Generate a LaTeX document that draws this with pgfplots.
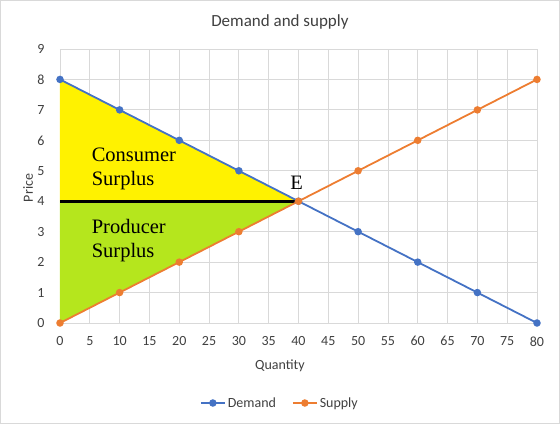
\documentclass[border=0pt]{standalone}
\usepackage{pgfplots}
\pgfplotsset{compat=1.18}
\usepackage{fontspec}
\setmainfont{Carlito}
\newfontfamily\tnr{Liberation Serif}
\definecolor{dem}{HTML}{4472C4}
\definecolor{sup}{HTML}{ED7D31}
\definecolor{csy}{HTML}{FFF200}
\definecolor{psg}{HTML}{B5E61D}
\definecolor{txt}{HTML}{404040}
\definecolor{grd}{HTML}{D9D9D9}
\begin{document}
\begin{tikzpicture}
\draw[line width=1pt, color=grd] (0.5pt,0.5pt) rectangle (559.5pt,423.5pt);
\begin{axis}[
  at={(60pt,101pt)}, anchor=south west,
  scale only axis, width=477pt, height=274pt,
  xmin=0, xmax=80, ymin=0, ymax=9,
  xtick={0,5,...,80}, ytick={0,1,...,9},
  grid=major, grid style={grd, line width=0.8pt},
  axis line style={draw=none},
  major tick length=0pt,
  /pgf/number format/assume math mode=true,
  ticklabel style={font=\fontsize{14}{16}\selectfont, text=txt},
  yticklabel style={xshift=-12pt},
  xticklabel style={yshift=-10pt},
  title={Demand and supply},
  title style={font=\fontsize{17}{20}\selectfont, text=txt, at={(0.461,1.077)}, anchor=center},
  xlabel={Quantity},
  xlabel style={font=\fontsize{14}{16}\selectfont, text=txt, at={(0.461,-0.157)}, anchor=center},
  ylabel={Price},
  ylabel style={font=\fontsize{14}{16}\selectfont, text=txt, at={(-0.067,0.493)}, anchor=center},
  legend columns=2,
  legend style={draw=none, fill=none, at={(0.461,-0.292)}, anchor=center,
    font=\fontsize{14}{16}\selectfont, text=txt,
    /tikz/every even column/.append style={column sep=14pt}},
  legend image code/.code={\draw[#1, mark repeat=2, mark phase=2] plot coordinates {(0pt,0pt) (12pt,0pt) (24pt,0pt)};},
]
\addplot[fill=csy, draw=none, forget plot] coordinates {(0,4) (0,8) (40,4)} -- cycle;
\addplot[fill=psg, draw=none, forget plot] coordinates {(0,0) (0,4) (40,4)} -- cycle;
\addplot[black, line width=2.8pt, forget plot] coordinates {(0,4) (40,4)};
\addplot[dem, line width=1.8pt, mark=*, mark size=2.8pt] coordinates {
 (0,8) (10,7) (20,6) (30,5) (40,4) (50,3) (60,2) (70,1) (80,0)};
\addlegendentry{Demand}
\addplot[sup, line width=1.8pt, mark=*, mark size=2.8pt] coordinates {
 (0,0) (10,1) (20,2) (30,3) (40,4) (50,5) (60,6) (70,7) (80,8)};
\addlegendentry{Supply}
\node[anchor=base west, align=left, font=\tnr\fontsize{20.5}{24}\selectfont, inner sep=0pt] at (axis cs:5.3,4.53) {Consumer\\Surplus};
\node[anchor=base west, align=left, font=\tnr\fontsize{20.5}{24}\selectfont, inner sep=0pt] at (axis cs:5.3,2.14) {Producer\\Surplus};
\node[anchor=base, font=\tnr\fontsize{20.5}{24}\selectfont, inner sep=0pt] at (axis cs:39.7,4.37) {E};
\end{axis}
\end{tikzpicture}
\end{document}
